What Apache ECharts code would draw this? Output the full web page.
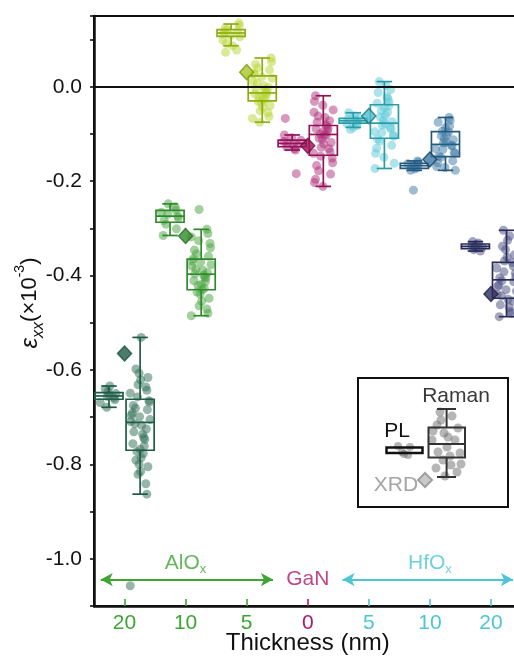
<!DOCTYPE html>
<html>
<head>
<meta charset="utf-8">
<script src="https://cdn.jsdelivr.net/npm/echarts@6/dist/echarts.min.js"></script>
<style>
  html, body { margin: 0; padding: 0; background: #fff; }
  #chart { width: 514px; height: 659px; }
</style>
</head>
<body>
<div id="chart"></div>
<script>
// Thickness categories along x (AlOx 20/10/5 nm, bare GaN, HfOx 5/10/20 nm)
const thicknessLabels = ['20', '10', '5', '0', '5', '10', '20'];
const materialOfCategory = [0, 0, 0, 1, 2, 2, 2];
const materialNames = ['AlO{sub|x}', 'GaN', 'HfO{sub|x}'];

// Box statistics [lower whisker, Q1, median, Q3, upper whisker] in units of 1e-3
const plBoxes = [
  [-0.679, -0.662, -0.655, -0.648, -0.634],
  [-0.315, -0.287, -0.274, -0.262, -0.248],
  [0.087, 0.107, 0.114, 0.121, 0.133],
  [-0.134, -0.127, -0.120, -0.113, -0.102],
  [-0.086, -0.077, -0.072, -0.067, -0.055],
  [-0.177, -0.173, -0.167, -0.162, -0.157],
  [-0.348, -0.343, -0.338, -0.333, -0.328]
];
const ramanBoxes = [
  [-0.863, -0.770, -0.711, -0.662, -0.531],
  [-0.485, -0.430, -0.397, -0.365, -0.302],
  [-0.075, -0.030, -0.013, 0.023, 0.061],
  [-0.211, -0.145, -0.101, -0.082, -0.019],
  [-0.173, -0.109, -0.077, -0.038, 0.011],
  [-0.177, -0.148, -0.122, -0.095, -0.065],
  [-0.487, -0.448, -0.409, -0.372, -0.304]
];

// Individual PL measurements per category
const plPoints = [
  [-0.634, -0.641, -0.646, -0.650, -0.653, -0.656, -0.659, -0.663, -0.669, -0.679],
  [-0.248, -0.254, -0.261, -0.266, -0.270, -0.274, -0.278, -0.283, -0.291, -0.301, -0.315],
  [0.135, 0.130, 0.124, 0.121, 0.118, 0.115, 0.112, 0.109, 0.106, 0.099, 0.092, 0.087, 0.078, 0.073],
  [-0.067, -0.102, -0.108, -0.113, -0.116, -0.119, -0.122, -0.124, -0.127, -0.131, -0.134, -0.184],
  [-0.055, -0.062, -0.066, -0.069, -0.071, -0.073, -0.075, -0.078, -0.082, -0.086, -0.090],
  [-0.157, -0.160, -0.163, -0.165, -0.167, -0.169, -0.171, -0.174, -0.177, -0.219],
  [-0.328, -0.331, -0.334, -0.336, -0.338, -0.340, -0.342, -0.345, -0.348]
];

// Individual Raman measurements per category
const ramanPoints = [
  [-0.531, -0.598, -0.607, -0.616, -0.621, -0.631, -0.636, -0.643, -0.649, -0.657,
   -0.665, -0.668, -0.675, -0.681, -0.684, -0.691, -0.696, -0.699, -0.705, -0.709,
   -0.714, -0.717, -0.725, -0.731, -0.736, -0.743, -0.747, -0.756, -0.761, -0.768,
   -0.773, -0.777, -0.786, -0.791, -0.800, -0.805, -0.815, -0.821, -0.841, -0.863, -1.057],
  [-0.260, -0.302, -0.311, -0.318, -0.326, -0.332, -0.341, -0.346, -0.354, -0.359,
   -0.364, -0.369, -0.371, -0.377, -0.380, -0.386, -0.388, -0.394, -0.396, -0.399,
   -0.403, -0.405, -0.411, -0.413, -0.419, -0.421, -0.427, -0.430, -0.435, -0.439,
   -0.448, -0.454, -0.464, -0.471, -0.480, -0.485],
  [0.061, 0.053, 0.048, 0.040, 0.036, 0.029, 0.027, 0.021, 0.018, 0.011,
   0.008, 0.002, -0.001, -0.005, -0.006, -0.011, -0.012, -0.015, -0.016, -0.020,
   -0.021, -0.026, -0.027, -0.031, -0.034, -0.040, -0.043, -0.051, -0.055, -0.063,
   -0.067, -0.075],
  [-0.019, -0.031, -0.039, -0.049, -0.054, -0.062, -0.065, -0.072, -0.075, -0.081,
   -0.083, -0.088, -0.089, -0.094, -0.095, -0.100, -0.102, -0.103, -0.109, -0.111,
   -0.118, -0.121, -0.128, -0.131, -0.138, -0.141, -0.147, -0.151, -0.161, -0.167,
   -0.178, -0.185, -0.196, -0.203, -0.211],
  [0.011, 0.003, -0.006, -0.012, -0.021, -0.025, -0.032, -0.035, -0.041, -0.044,
   -0.051, -0.054, -0.061, -0.064, -0.071, -0.074, -0.079, -0.081, -0.087, -0.089,
   -0.095, -0.097, -0.103, -0.105, -0.111, -0.115, -0.124, -0.130, -0.141, -0.149,
   -0.162, -0.173],
  [-0.065, -0.071, -0.075, -0.083, -0.087, -0.094, -0.096, -0.102, -0.104, -0.110,
   -0.112, -0.118, -0.119, -0.124, -0.125, -0.131, -0.133, -0.139, -0.141, -0.147,
   -0.149, -0.157, -0.161, -0.169, -0.171, -0.177],
  [-0.304, -0.316, -0.325, -0.338, -0.345, -0.356, -0.361, -0.369, -0.372, -0.380,
   -0.384, -0.392, -0.395, -0.402, -0.405, -0.411, -0.413, -0.420, -0.423, -0.430,
   -0.433, -0.440, -0.443, -0.450, -0.454, -0.462, -0.467, -0.476, -0.480, -0.487]
];

// XRD-derived strain per category
const xrdValues = [-0.565, -0.316, 0.031, -0.125, -0.062, -0.154, -0.439];

// Styling
const boxColors   = ['#1f5c47', '#2f8a2c', '#8fac12', '#921458', '#2a9ba7', '#255a80', '#2a2c5a'];
const pointColors = ['#2f6e56', '#47a33d', '#b7d634', '#b2307a', '#5ccad8', '#3d79a5', '#4a4e82'];
const diamondFill = ['#1f5c47', '#2f8a2c', '#aac82a', '#9c1259', '#4cc0cd', '#3878a4', '#2a2c5a'];
const diamondEdge = ['#1a4d3c', '#25701f', '#7e9810', '#7a0e45', '#1f6f78', '#1d3f5c', '#1e2045'];
const materialColors = ['#3ea535', '#b0186c', '#4cc6d5'];
const FONT = '"Liberation Sans", Arial, sans-serif';

const PL_OFFSET = -0.255;
const RAMAN_OFFSET = 0.255;
const BOX_W = 0.46;
// fixed spread pattern used to fan out the dots horizontally
const spread = [0.1, -0.6, 0.7, -0.2, 0.4, -0.9, 0.85, -0.4, 0.25, -0.75, 0.55, 0.0,
  -0.5, 0.9, -0.1, 0.35, -0.85, 0.65, -0.3, 0.15, -0.65, 0.75, 0.45, -0.05, -0.95,
  0.3, 0.6, -0.45, 0.05, -0.7, 0.95, -0.25];

function dots(groups, offset, width) {
  const out = [];
  groups.forEach((vals, g) => {
    vals.forEach((v, i) => {
      out.push({
        value: [g + offset + spread[(i * 7 + g * 3) % spread.length] * width, v],
        itemStyle: { color: pointColors[g] }
      });
    });
  });
  return out;
}

function boxes(stats, offset) {
  return stats.map((s, g) => [g + offset, s[0], s[1], s[2], s[3], s[4], g]);
}

function renderBox(params, api) {
  const x = api.value(0);
  const ci = api.value(6);
  const c = api.coord([x, 0])[0];
  const yLo = api.coord([x, api.value(1)])[1];
  const yQ1 = api.coord([x, api.value(2)])[1];
  const yMed = api.coord([x, api.value(3)])[1];
  const yQ3 = api.coord([x, api.value(4)])[1];
  const yHi = api.coord([x, api.value(5)])[1];
  const w = api.size([BOX_W, 0])[0];
  const cap = w * 0.55;
  const st = { stroke: boxColors[ci], lineWidth: 1.7, fill: 'none' };
  return {
    type: 'group',
    children: [
      { type: 'line', shape: { x1: c, y1: yHi, x2: c, y2: yQ3 }, style: st },
      { type: 'line', shape: { x1: c, y1: yQ1, x2: c, y2: yLo }, style: st },
      { type: 'line', shape: { x1: c - cap / 2, y1: yHi, x2: c + cap / 2, y2: yHi }, style: st },
      { type: 'line', shape: { x1: c - cap / 2, y1: yLo, x2: c + cap / 2, y2: yLo }, style: st },
      { type: 'rect', shape: { x: c - w / 2, y: yQ3, width: w, height: yQ1 - yQ3 }, style: st },
      { type: 'line', shape: { x1: c - w / 2, y1: yMed, x2: c + w / 2, y2: yMed }, style: st }
    ]
  };
}

const catIdx = thicknessLabels.map((_, i) => String(i));

function groupAxis(mat, showLine) {
  return {
    type: 'category',
    position: 'bottom',
    data: catIdx,
    boundaryGap: true,
    axisLine: { show: showLine, onZero: false, lineStyle: { color: '#111', width: 2.5 } },
    axisTick: {
      show: true, inside: true, length: 7, alignWithLabel: true,
      interval: (i) => materialOfCategory[i] === mat,
      lineStyle: { color: materialColors[mat], width: 1.6 }
    },
    axisLabel: {
      show: true, margin: 7,
      interval: (i) => materialOfCategory[i] === mat,
      formatter: (v) => thicknessLabels[+v],
      color: materialColors[mat], fontSize: 21, fontFamily: FONT
    },
    splitLine: { show: false },
    name: showLine ? 'Thickness (nm)' : '',
    nameLocation: 'middle',
    nameGap: 25,
    nameMoveOverlap: false,
    nameTextStyle: { color: '#111', fontSize: 24, fontFamily: FONT }
  };
}

const chart = echarts.init(document.getElementById('chart'), null, { renderer: 'canvas' });

chart.setOption({
  animation: false,
  backgroundColor: '#fff',
  grid: {
    left: 94, right: -7.5, top: 16, bottom: 53,
    containLabel: false, outerBoundsMode: 'none',
    show: true, borderColor: '#111', borderWidth: 2, backgroundColor: 'transparent'
  },
  xAxis: [
    { type: 'value', position: 'bottom', min: -0.5, max: 6.5, show: false,
      axisLine: { onZero: false } },
    groupAxis(0, true),
    groupAxis(1, false),
    groupAxis(2, false)
  ],
  yAxis: {
    type: 'value',
    min: -1.1, max: 0.15, interval: 0.1,
    axisLine: { show: true, onZero: false, lineStyle: { color: '#111', width: 2.5 } },
    axisTick: { show: true, inside: false, length: 4, lineStyle: { color: '#111', width: 1.6 } },
    axisLabel: {
      margin: 12, color: '#111', fontSize: 21, fontFamily: FONT,
      formatter: (v) => {
        const k = Math.round(v * 10);
        if (Math.abs(v * 10 - k) > 1e-6 || k % 2 !== 0) return '';
        return k === 0 ? '0.0' : (k / 10).toFixed(1);
      }
    },
    splitLine: { show: false }
  },
  graphic: [
    {
      type: 'text', x: 30, y: 303, rotation: Math.PI / 2,
      style: {
        text: '{e|ε}{s|xx}{n|(×10}{p|-3}{n|)}',
        align: 'center', verticalAlign: 'middle',
        rich: {
          e: { fontSize: 24, fontStyle: 'italic', fontFamily: FONT, fill: '#111', lineHeight: 34, verticalAlign: 'middle' },
          s: { fontSize: 16, fontStyle: 'italic', fontFamily: FONT, fill: '#111', lineHeight: 34, verticalAlign: 'bottom', padding: [10, 0, 0, 0] },
          n: { fontSize: 22, fontFamily: FONT, fill: '#111', lineHeight: 34, verticalAlign: 'middle' },
          p: { fontSize: 14, fontFamily: FONT, fill: '#111', lineHeight: 34, verticalAlign: 'top', padding: [0, 0, 14, 0] }
        }
      }
    },
    // Key inset
    {
      type: 'group', z: 50,
      children: [
        { type: 'rect', shape: { x: 358, y: 378, width: 150, height: 129 },
          style: { fill: '#fff', stroke: '#111', lineWidth: 2 } },
        { type: 'text', x: 456, y: 396, style: { text: 'Raman', fontSize: 21, fontFamily: FONT, fill: '#3a3a3a', align: 'center', verticalAlign: 'middle' } },
        { type: 'text', x: 397, y: 431, style: { text: 'PL', fontSize: 21, fontFamily: FONT, fill: '#111', align: 'center', verticalAlign: 'middle' } },
        { type: 'text', x: 396, y: 485, style: { text: 'XRD', fontSize: 21, fontFamily: FONT, fill: '#a5a5a5', align: 'center', verticalAlign: 'middle' } },
        // grey dots behind the key glyphs
        ...[[440, 412], [452, 416], [437, 425], [458, 428], [444, 433], [432, 440], [455, 440],
            [447, 447], [438, 452], [460, 453], [443, 460], [451, 465], [436, 468], [457, 472],
            [445, 476], [441, 420], [450, 456], [433, 431], [461, 464], [448, 437]]
          .map(p => ({ type: 'circle', shape: { cx: p[0], cy: p[1], r: 4.5 }, style: { fill: 'rgba(110,110,110,0.5)' } })),
        ...[[398, 446], [404, 454], [410, 447], [402, 452], [408, 455]]
          .map(p => ({ type: 'circle', shape: { cx: p[0], cy: p[1], r: 4 }, style: { fill: 'rgba(110,110,110,0.5)' } })),
        { type: 'line', shape: { x1: 446.6, y1: 409, x2: 446.6, y2: 427 }, style: { stroke: '#333', lineWidth: 2 } },
        { type: 'line', shape: { x1: 446.6, y1: 457, x2: 446.6, y2: 477 }, style: { stroke: '#333', lineWidth: 2 } },
        { type: 'line', shape: { x1: 437, y1: 409, x2: 456, y2: 409 }, style: { stroke: '#333', lineWidth: 2 } },
        { type: 'line', shape: { x1: 437, y1: 477, x2: 456, y2: 477 }, style: { stroke: '#333', lineWidth: 2 } },
        { type: 'rect', shape: { x: 428.5, y: 427.5, width: 36.5, height: 30 }, style: { fill: 'none', stroke: '#333', lineWidth: 2 } },
        { type: 'line', shape: { x1: 428.5, y1: 444, x2: 465, y2: 444 }, style: { stroke: '#333', lineWidth: 2 } },
        { type: 'rect', shape: { x: 386.5, y: 447.5, width: 36, height: 5.5 }, style: { fill: 'none', stroke: '#111', lineWidth: 2.5 } },
        { type: 'polygon', shape: { points: [[425, 473], [432, 480], [425, 487], [418, 480]] },
          style: { fill: '#c9c9c9', stroke: '#a0a0a0', lineWidth: 2 } }
      ]
    }
  ],
  series: [
    {
      name: 'PL points', type: 'scatter', xAxisIndex: 0, yAxisIndex: 0,
      data: dots(plPoints, PL_OFFSET, 0.15),
      symbolSize: 9, itemStyle: { opacity: 0.5 }, z: 2, silent: true,
      markLine: {
        silent: true, symbol: 'none', label: { show: false },
        lineStyle: { color: '#111', width: 2, type: 'solid' },
        data: [{ yAxis: 0 }]
      }
    },
    {
      name: 'Raman points', type: 'scatter', xAxisIndex: 0, yAxisIndex: 0,
      data: dots(ramanPoints, RAMAN_OFFSET, 0.17),
      symbolSize: 9, itemStyle: { opacity: 0.5 }, z: 2, silent: true
    },
    {
      name: 'PL', type: 'custom', xAxisIndex: 0, yAxisIndex: 0,
      data: boxes(plBoxes, PL_OFFSET), renderItem: renderBox,
      encode: { x: 0, y: [1, 5] }, z: 4, silent: true
    },
    {
      name: 'Raman', type: 'custom', xAxisIndex: 0, yAxisIndex: 0,
      data: boxes(ramanBoxes, RAMAN_OFFSET), renderItem: renderBox,
      encode: { x: 0, y: [1, 5] }, z: 4, silent: true
    },
    {
      name: 'XRD', type: 'scatter', xAxisIndex: 0, yAxisIndex: 0,
      data: xrdValues.map((v, g) => ({
        value: [g, v],
        itemStyle: { color: diamondFill[g], borderColor: diamondEdge[g], borderWidth: 1.5 }
      })),
      symbol: 'diamond', symbolSize: [14, 15], z: 6, silent: true
    },
    {
      name: 'materials', type: 'scatter', xAxisIndex: 0, yAxisIndex: 0,
      data: [[1, -1.009], [3, -1.044], [5, -1.009]].map((p, m) => ({
        value: p,
        label: { color: materialColors[m], rich: { sub: { color: materialColors[m], fontSize: 13, fontFamily: FONT, padding: [12, 0, 0, 0] } } }
      })),
      symbolSize: 0, silent: true, z: 6,
      label: {
        show: true, position: 'inside', fontSize: 21, fontFamily: FONT,
        formatter: (p) => materialNames[p.dataIndex]
      },
      markLine: {
        silent: true, symbol: ['arrow', 'arrow'], symbolSize: [10, 12],
        label: { show: false },
        data: [
          [{ coord: [-0.39, -1.044], lineStyle: { color: materialColors[0], width: 2.2, type: 'solid' } },
           { coord: [2.43, -1.044] }],
          [{ coord: [3.57, -1.044], lineStyle: { color: materialColors[2], width: 2.2, type: 'solid' } },
           { coord: [6.36, -1.044] }]
        ]
      }
    }
  ]
});
</script>
</body>
</html>
